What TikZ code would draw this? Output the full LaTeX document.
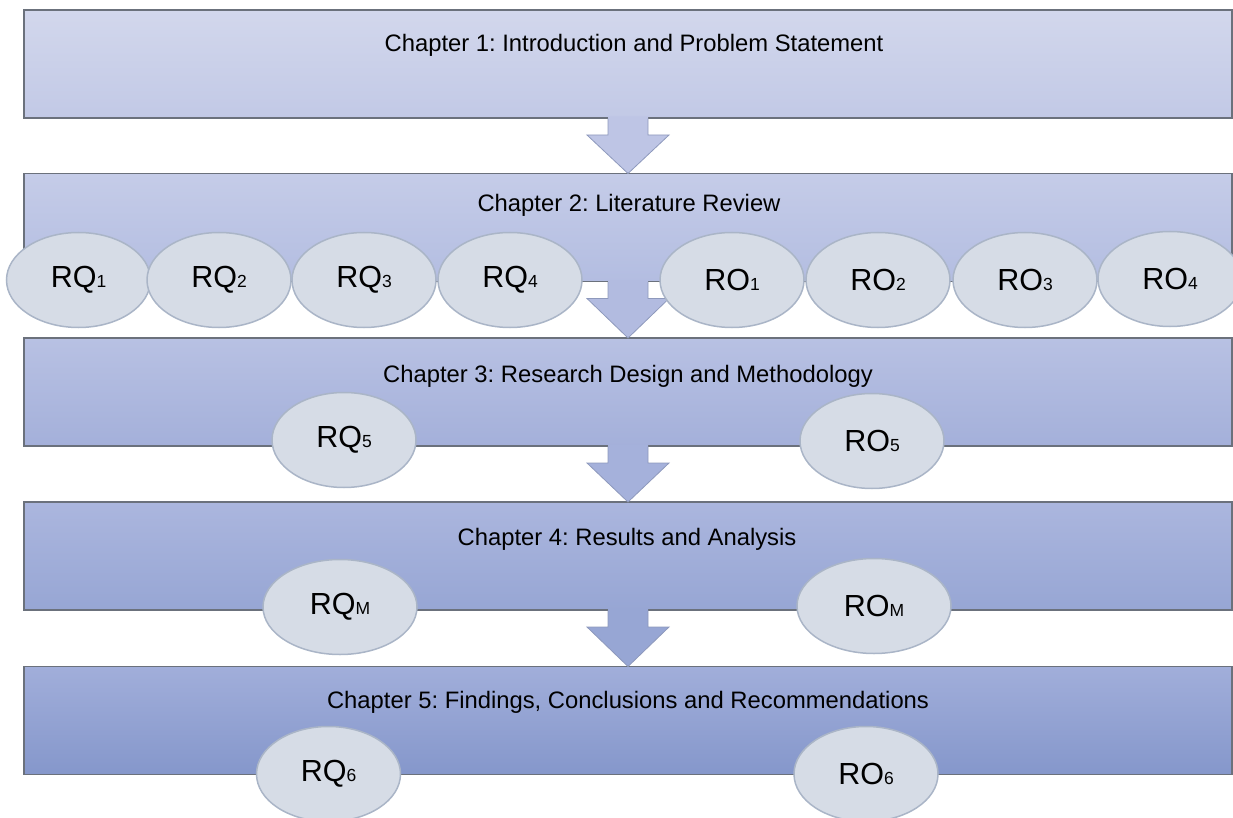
\documentclass[tikz,border=0pt]{standalone}
\usepackage{fontspec}
\setmainfont{Liberation Sans}
\usetikzlibrary{calc,shapes.geometric}
\frenchspacing

\definecolor{boxline}{HTML}{6B717C}
\definecolor{ovalfill}{HTML}{D6DCE6}
\definecolor{ovalline}{HTML}{AAB5C7}
\definecolor{arrowline}{HTML}{8E99BC}

% gradient colours of the five chapter bands
\definecolor{bAtop}{HTML}{D2D7EC}\definecolor{bAbot}{HTML}{C2C9E6}
\definecolor{bBtop}{HTML}{C5CCE8}\definecolor{bBbot}{HTML}{B3BDE1}
\definecolor{bCtop}{HTML}{B8C1E3}\definecolor{bCbot}{HTML}{A4B0DA}
\definecolor{bDtop}{HTML}{ABB6DE}\definecolor{bDbot}{HTML}{97A6D4}
\definecolor{bEtop}{HTML}{A1AEDA}\definecolor{bEbot}{HTML}{8597CB}
% fills of the four block arrows
\definecolor{arA}{HTML}{BEC5E5}
\definecolor{arB}{HTML}{B2BBE0}
\definecolor{arC}{HTML}{A5B1DB}
\definecolor{arD}{HTML}{97A6D4}

\newcommand{\chapfont}{\fontsize{23.8}{28}\selectfont}
\newcommand{\ovalfont}{\fontsize{30.5}{32}\selectfont}
\newcommand{\idx}[1]{{\fontsize{17.5}{18}\selectfont #1}}

\tikzset{
  chapbox/.style={draw=boxline, line width=1.2pt, rectangle,
    minimum width=1208pt, minimum height=108pt, inner sep=0pt, outer sep=0pt},
  chaptitle/.style={anchor=base, inner sep=0pt, font=\chapfont},
  oval/.style={ellipse, draw=ovalline, line width=1.5pt, fill=ovalfill,
    minimum width=144pt, minimum height=95pt, inner sep=0pt, font=\ovalfont},
  widefoval/.style={oval, minimum width=154pt},
  arrowedge/.style={draw=arrowline, line width=0.8pt, line join=miter},
}

\begin{document}
\begin{tikzpicture}[x=1pt,y=-1pt]
\useasboundingbox (0,0) rectangle (1233,818);

% chapter bands
\node[chapbox, top color=bAtop, bottom color=bAbot] (b1) at (628,64) {};
\node[chapbox, top color=bBtop, bottom color=bBbot] (b2) at (628,227.5) {};
\node[chapbox, top color=bCtop, bottom color=bCbot] (b3) at (628,392) {};
\node[chapbox, top color=bDtop, bottom color=bDbot] (b4) at (628,556) {};
\node[chapbox, top color=bEtop, bottom color=bEbot] (b5) at (628,720.5) {};

% block arrows from each band to the next
\foreach \a/\b/\c in {b1/b2/arA, b2/b3/arB, b3/b4/arC, b4/b5/arD} {
  \fill[\c] ($(\a.south)+(-20,-1.5)$) -- ($(\a.south)+(-20,17)$)
    -- ($(\a.south)+(-41,17)$) -- (\b.north) -- ($(\a.south)+(41,17)$)
    -- ($(\a.south)+(20,17)$) -- ($(\a.south)+(20,-1.5)$) -- cycle;
  \draw[arrowedge] ($(\a.south)+(-20,0.6)$) -- ($(\a.south)+(-20,17)$)
    -- ($(\a.south)+(-41,17)$) -- (\b.north) -- ($(\a.south)+(41,17)$)
    -- ($(\a.south)+(20,17)$) -- ($(\a.south)+(20,0.6)$);
}

% chapter titles
\node[chaptitle] (t1) at (634,52) {Chapter 1: Introduction and Problem Statement};
\node[chaptitle] (t2) at (629,212) {Chapter 2: Literature Review};
\node[chaptitle] (t3) at (628,382) {Chapter 3: Research Design and Methodology};
\node[chaptitle] (t4) at (627,545) {Chapter 4: Results and Analysis};
\node[chaptitle] (t5) at (628,708) {Chapter 5: Findings, Conclusions and Recommendations};

% research questions and objectives, chapter 2
\node[oval] (rq1) at (78.5,280) {RQ\idx{1}};
\node[oval] (rq2) at (219,280) {RQ\idx{2}};
\node[oval] (rq3) at (364,280) {RQ\idx{3}};
\node[oval] (rq4) at (510,280) {RQ\idx{4}};
\node[oval] (ro1) at (732,280) {RO\idx{1}};
\node[oval] (ro2) at (878,280) {RO\idx{2}};
\node[oval] (ro3) at (1025,280) {RO\idx{3}};
\node[oval] (ro4) at (1170,279) {RO\idx{4}};

% chapter 3
\node[oval] (rq5) at (344,440) {RQ\idx{5}};
\node[oval] (ro5) at (872,441) {RO\idx{5}};

% chapter 4
\node[widefoval] (rqm) at (340,607) {RQ\idx{M}};
\node[widefoval] (rom) at (874,606) {RO\idx{M}};

% chapter 5
\node[oval] (rq6) at (328.5,774) {RQ\idx{6}};
\node[oval] (ro6) at (866,774) {RO\idx{6}};
\end{tikzpicture}
\end{document}
